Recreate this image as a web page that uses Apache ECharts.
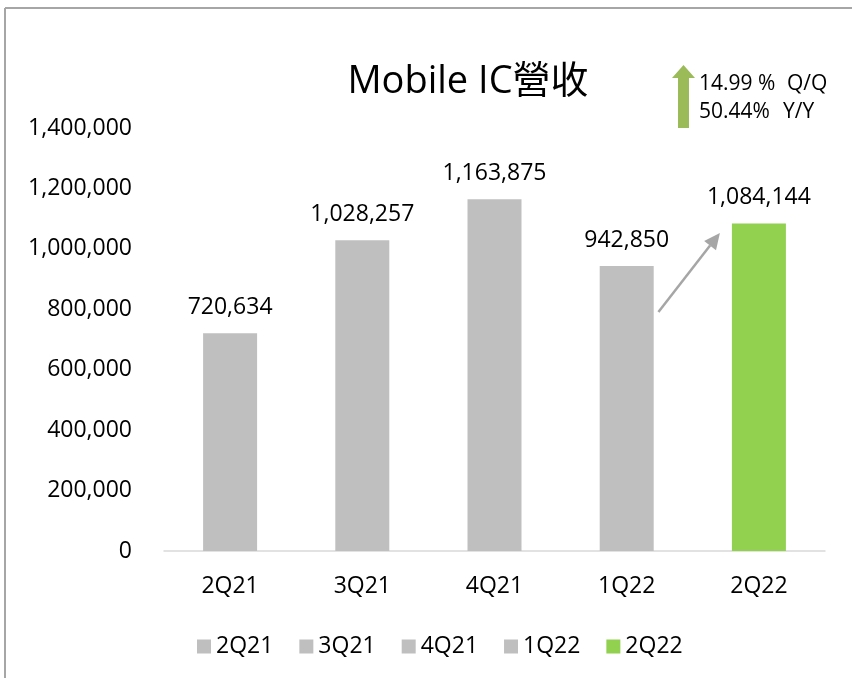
<!DOCTYPE html>
<html><head><meta charset="utf-8">
<script src="https://cdn.jsdelivr.net/npm/echarts@6/dist/echarts.min.js"></script>
<style>html,body{margin:0;padding:0;background:#fff}#c{width:852px;height:678px}</style>
</head><body><div id="c"></div>
<script>
const categories = ['2Q21','3Q21','4Q21','1Q22','2Q22'];
const revenue = [720634, 1028257, 1163875, 942850, 1084144];
const barColors = ['#bfbfbf','#bfbfbf','#bfbfbf','#bfbfbf','#92d050'];
const yTicks = [0, 200000, 400000, 600000, 800000, 1000000, 1200000, 1400000];
const growthPct = ['14.99 %', '50.44%'];
const growthKind = ['Q/Q', 'Y/Y'];

const FONT = '"Open Sans","Noto Sans","Noto Sans CJK TC",sans-serif';
const chart = echarts.init(document.getElementById('c'));
const fmt = v => v.toLocaleString('en-US');

const series = categories.map((c, i) => ({
  name: c,
  type: 'bar',
  barWidth: 54,
  barGap: '-100%',
  itemStyle: { color: barColors[i] },
  label: { show: true, position: 'top', distance: 14, color: '#000', fontSize: 23, fontFamily: FONT, formatter: p => fmt(p.value) },
  data: categories.map((_, j) => j === i ? revenue[i] : '-')
}));

chart.setOption({
  animation: false,
  title: { text: 'Mobile IC營收', left: 463, top: 58, textAlign: 'center',
    textStyle: { fontSize: 38, fontWeight: 'normal', color: '#000', fontFamily: FONT } },
  legend: { top: 630, left: 192, itemWidth: 14, itemHeight: 14, itemGap: 26,
    icon: 'rect', textStyle: { fontSize: 23, color: '#000', fontFamily: FONT },
    data: categories },
  grid: { left: 164, right: 27, top: 128, bottom: 127 },
  xAxis: { type: 'category', data: categories,
    axisLine: { lineStyle: { color: '#d9d9d9', width: 1.5 } }, axisTick: { show: false },
    axisLabel: { fontSize: 23, color: '#000', margin: 24, fontFamily: FONT } },
  yAxis: { type: 'value', min: yTicks[0], max: yTicks[yTicks.length-1], interval: yTicks[1]-yTicks[0],
    splitLine: { show: false },
    axisLabel: { fontSize: 23, color: '#000', margin: 32, fontFamily: FONT, formatter: v => fmt(v) } },
  series: series
});

// annotations
const p1 = chart.convertToPixel({gridIndex:0}, [3, 0]);
const p2 = chart.convertToPixel({gridIndex:0}, [4, 0]);
const step = p2[0] - p1[0];
const start = chart.convertToPixel({gridIndex:0}, [3, revenue[3] * 0.839]);
const end = chart.convertToPixel({gridIndex:0}, [4, revenue[4] * 0.971]);
const sx = start[0] + step*0.24, sy = start[1];
const ex = end[0] - step*0.295, ey = end[1];
const ang = Math.atan2(ey - sy, ex - sx);
const ah = 16, aw = 7.5;
const bx = ex - ah*Math.cos(ang), by = ey - ah*Math.sin(ang);
const tstyle = { fontSize: 21, fill: '#000', fontFamily: FONT, verticalAlign: 'middle' };
chart.setOption({
  graphic: [
    { type: 'line', shape: { x1: 5, y1: 8, x2: 852, y2: 8 }, style: { stroke: '#a6a6a6', lineWidth: 2 } },
    { type: 'line', shape: { x1: 5, y1: 8, x2: 5, y2: 678 }, style: { stroke: '#a6a6a6', lineWidth: 2 } },
    { type: 'line', shape: { x1: sx, y1: sy, x2: bx, y2: by }, style: { stroke: '#a6a6a6', lineWidth: 2.5 } },
    { type: 'polygon', shape: { points: [[ex, ey],
        [bx + aw*Math.sin(ang), by - aw*Math.cos(ang)],
        [bx - aw*Math.sin(ang), by + aw*Math.cos(ang)]] }, style: { fill: '#a6a6a6' } },
    { type: 'polygon', shape: { points: [[678,128],[689,128],[689,78],[695,78],[683.5,65],[672,78],[678,78]] },
      style: { fill: '#9bbb59' } },
    { type: 'text', x: 699, y: 84, style: Object.assign({ text: growthPct[0] }, tstyle) },
    { type: 'text', x: 787, y: 84, style: Object.assign({ text: growthKind[0] }, tstyle) },
    { type: 'text', x: 699, y: 112, style: Object.assign({ text: growthPct[1] }, tstyle) },
    { type: 'text', x: 783, y: 112, style: Object.assign({ text: growthKind[1] }, tstyle) }
  ]
});
</script></body></html>
